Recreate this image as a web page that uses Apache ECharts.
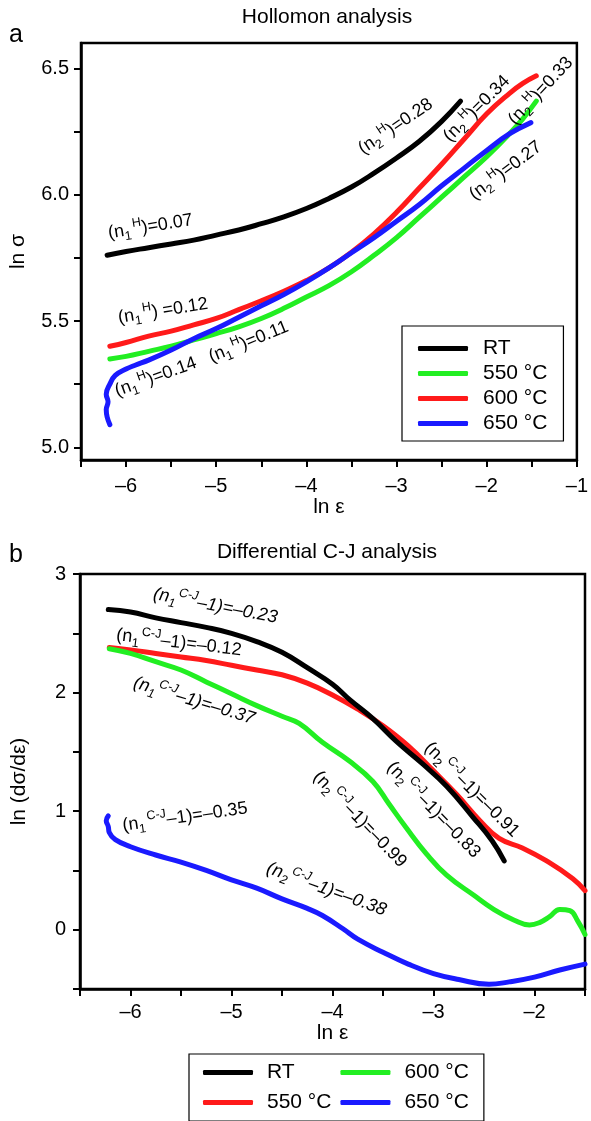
<!DOCTYPE html>
<html><head><meta charset="utf-8">
<script src="https://cdn.jsdelivr.net/npm/echarts@6/dist/echarts.min.js"></script>
<style>html,body{margin:0;padding:0;background:#fff}#c{width:591px;height:1121px}</style>
</head><body><div id="c"></div>
<script>
// ---------- DATA ----------
// Panel a: Hollomon analysis, [ln ε, ln σ]
const hollRT = [[-6.21,5.76],[-6.0,5.775],[-5.75,5.79],[-5.5,5.805],[-5.25,5.82],[-5.0,5.84],[-4.75,5.86],[-4.5,5.885],[-4.25,5.912],[-4.0,5.945],[-3.75,5.985],[-3.5,6.03],[-3.25,6.085],[-3.0,6.145],[-2.75,6.21],[-2.5,6.29],[-2.29,6.37]];
const holl550 = [[-6.18,5.35],[-6.0,5.36],[-5.75,5.38],[-5.5,5.40],[-5.25,5.425],[-5.0,5.45],[-4.75,5.477],[-4.5,5.51],[-4.25,5.55],[-4.0,5.595],[-3.75,5.64],[-3.5,5.695],[-3.25,5.76],[-3.0,5.83],[-2.75,5.91],[-2.5,5.99],[-2.25,6.07],[-2.0,6.15],[-1.75,6.24],[-1.6,6.30],[-1.45,6.37]];
const holl600 = [[-6.18,5.40],[-6.0,5.415],[-5.75,5.44],[-5.5,5.46],[-5.25,5.485],[-5.0,5.51],[-4.75,5.545],[-4.5,5.58],[-4.25,5.618],[-4.0,5.66],[-3.75,5.71],[-3.5,5.772],[-3.25,5.845],[-3.0,5.93],[-2.75,6.025],[-2.5,6.12],[-2.25,6.22],[-2.0,6.32],[-1.75,6.40],[-1.6,6.44],[-1.45,6.47]];
const holl650 = [[-6.18,5.09],[-6.21,5.12],[-6.22,5.15],[-6.2,5.18],[-6.22,5.21],[-6.18,5.25],[-6.12,5.285],[-6.0,5.31],[-5.9,5.325],[-5.75,5.345],[-5.5,5.385],[-5.25,5.43],[-5.0,5.47],[-4.75,5.515],[-4.5,5.56],[-4.25,5.605],[-4.0,5.655],[-3.75,5.71],[-3.5,5.77],[-3.25,5.83],[-3.0,5.895],[-2.75,5.96],[-2.5,6.035],[-2.25,6.105],[-2.0,6.175],[-1.75,6.24],[-1.51,6.285]];
// Panel b: Differential C-J analysis, [ln ε, ln(dσ/dε)]
const cjRT = [[-6.22,2.70],[-6.0,2.68],[-5.75,2.63],[-5.5,2.59],[-5.25,2.55],[-5.0,2.50],[-4.75,2.43],[-4.5,2.34],[-4.25,2.21],[-4.0,2.07],[-3.83,1.94],[-3.6,1.78],[-3.37,1.59],[-3.11,1.40],[-2.87,1.21],[-2.61,0.95],[-2.42,0.75],[-2.30,0.58]];
const cj550 = [[-6.21,2.38],[-6.0,2.36],[-5.75,2.33],[-5.5,2.30],[-5.25,2.27],[-5.0,2.23],[-4.75,2.19],[-4.5,2.15],[-4.25,2.08],[-4.0,1.98],[-3.75,1.86],[-3.5,1.72],[-3.25,1.55],[-3.0,1.34],[-2.77,1.14],[-2.54,0.92],[-2.35,0.77],[-2.12,0.69],[-1.88,0.58],[-1.62,0.43],[-1.5,0.33]];
const cj600 = [[-6.21,2.37],[-6.0,2.33],[-5.75,2.26],[-5.5,2.19],[-5.25,2.09],[-5.0,1.99],[-4.75,1.89],[-4.5,1.80],[-4.33,1.74],[-4.1,1.58],[-3.83,1.42],[-3.6,1.25],[-3.44,1.06],[-3.27,0.86],[-3.07,0.64],[-2.87,0.46],[-2.6,0.29],[-2.4,0.17],[-2.2,0.08],[-2.05,0.04],[-1.95,0.06],[-1.85,0.11],[-1.75,0.17],[-1.65,0.16],[-1.57,0.07],[-1.5,-0.04]];
const cj650 = [[-6.22,0.96],[-6.24,0.92],[-6.22,0.87],[-6.21,0.82],[-6.15,0.76],[-6.0,0.70],[-5.75,0.63],[-5.5,0.57],[-5.25,0.50],[-5.0,0.42],[-4.75,0.35],[-4.5,0.26],[-4.25,0.18],[-4.1,0.12],[-3.9,0.01],[-3.75,-0.08],[-3.5,-0.19],[-3.25,-0.29],[-3.0,-0.37],[-2.75,-0.42],[-2.45,-0.46],[-2.25,-0.44],[-2.0,-0.40],[-1.75,-0.34],[-1.5,-0.29]];
const seriesNames = ['RT', '550 °C', '600 °C', '650 °C'];
const hollYTicks = [5.0, 5.25, 5.5, 5.75, 6.0, 6.25, 6.5];
const hollYLabels = [5.0, 5.5, 6.0, 6.5];
// annotation anchors (data coords) and texts
const annos = [
  {grid:0, at:[-5.73,5.873], rot:9,  n:'1', sup:'H', tail:')=0.07'},
  {grid:0, at:[-3.01,6.27],  rot:34, n:'2', sup:'H', tail:')=0.28'},
  {grid:0, at:[-2.11,6.34],  rot:45, n:'2', sup:'H', tail:')=0.34'},
  {grid:0, at:[-1.40,6.41],  rot:47, n:'2', sup:'H', tail:')=0.33'},
  {grid:0, at:[-1.79,6.095], rot:37, n:'2', sup:'H', tail:')=0.27'},
  {grid:0, at:[-5.59,5.54],  rot:9,  n:'1', sup:'H', tail:') =0.12'},
  {grid:0, at:[-5.67,5.278], rot:20, n:'1', sup:'H', tail:')=0.14'},
  {grid:0, at:[-4.64,5.417], rot:22, n:'1', sup:'H', tail:')=0.11'},
  {grid:1, at:[-5.16,2.73],  rot:-11, n:'1', sup:'C-J', tail:'–1)=–0.23', it:true},
  {grid:1, at:[-5.52,2.42],  rot:-7,  n:'1', sup:'C-J', tail:'–1)=–0.12'},
  {grid:1, at:[-5.37,1.93],  rot:-17, n:'1', sup:'C-J', tail:'–1)=–0.37', it:true},
  {grid:1, at:[-5.46,0.95],  rot:8,   n:'1', sup:'C-J', tail:'–1)=–0.35'},
  {grid:1, at:[-4.06,0.34],  rot:-20, n:'2', sup:'C-J', tail:'–1)=–0.38', it:true},
  {grid:1, at:[-3.73,0.93],  rot:-46, n:'2', sup:'C-J', tail:'–1)=–0.99'},
  {grid:1, at:[-3.00,1.01],  rot:-46, n:'2', sup:'C-J', tail:'–1)=–0.83'},
  {grid:1, at:[-2.62,1.18],  rot:-45, n:'2', sup:'C-J', tail:'–1)=–0.91'}
];

// ---------- STYLE ----------
const FONT = 'Liberation Sans, Arial, Helvetica, sans-serif';
const BLACK = '#000000', GREEN = '#22ee22', RED = '#ff1a1a', BLUE = '#1a1aff';
const topColors = [BLACK, GREEN, RED, BLUE];
const botColors = [BLACK, RED, GREEN, BLUE];

function fmtNum(v) { return v < 0 ? '–' + Math.abs(v) : String(v); }
function intOnly(v) { return Math.abs(v - Math.round(v)) < 1e-9 ? fmtNum(Math.round(v)) : ''; }

function axisCommon() {
  return {
    axisLine: {show: true, onZero: false, lineStyle: {color: BLACK, width: 2.5}},
    axisTick: {show: true, inside: false, length: 7, lineStyle: {color: BLACK, width: 2}},
    splitLine: {show: false},
    nameTextStyle: {fontFamily: FONT, fontSize: 21, color: BLACK},
  };
}
function lineSeries(name, data, color, idx, z) {
  return {type: 'line', name, data, xAxisIndex: idx, yAxisIndex: idx, symbol: 'none', showSymbol: false,
    smooth: 0.45, z: z, lineStyle: {color, width: 5, cap: 'round', join: 'round'}, itemStyle: {color},
    emphasis: {disabled: true}, animation: false};
}

const option = {
  animation: false,
  backgroundColor: '#ffffff',
  textStyle: {fontFamily: FONT},
  title: [
    {text: 'Hollomon analysis', left: 327, top: 7, textAlign: 'center', padding: 0, textStyle: {fontFamily: FONT, fontSize: 21, fontWeight: 'normal', color: BLACK}},
    {text: 'Differential C-J analysis', left: 327, top: 542, textAlign: 'center', padding: 0, textStyle: {fontFamily: FONT, fontSize: 21, fontWeight: 'normal', color: BLACK}},
    {text: 'a', left: 9, top: 23, padding: 0, textStyle: {fontFamily: FONT, fontSize: 25, fontWeight: 'normal', color: BLACK}},
    {text: 'b', left: 9, top: 543, padding: 0, textStyle: {fontFamily: FONT, fontSize: 25, fontWeight: 'normal', color: BLACK}}
  ],
  grid: [
    {left: 80, top: 43, width: 506, height: 417, show: true, borderColor: BLACK, borderWidth: 2.5, containLabel: false},
    {left: 80, top: 574, width: 505, height: 415, show: true, borderColor: BLACK, borderWidth: 2.5, containLabel: false}
  ],
  xAxis: [
    Object.assign(axisCommon(), {type: 'value', gridIndex: 0, min: -6.5, max: -1, interval: 0.5,
      name: 'ln ε', nameLocation: 'middle', nameGap: 37,
      axisLabel: {formatter: intOnly, margin: 16, fontSize: 20, color: BLACK, fontFamily: FONT, showMinLabel: true, showMaxLabel: true}}),
    Object.assign(axisCommon(), {type: 'value', gridIndex: 1, min: -6.5, max: -1.5, interval: 0.5,
      name: 'ln ε', nameLocation: 'middle', nameGap: 30,
      axisLabel: {formatter: intOnly, margin: 13, fontSize: 20, color: BLACK, fontFamily: FONT}})
  ],
  yAxis: [
    Object.assign(axisCommon(), {type: 'value', gridIndex: 0, min: 4.95, max: 6.6,
      name: 'ln σ', nameLocation: 'middle', nameGap: 52, nameRotate: 90,
      axisTick: {show: true, inside: false, length: 7, lineStyle: {color: BLACK, width: 2}, customValues: hollYTicks},
      axisLabel: {customValues: hollYLabels, formatter: v => v.toFixed(1), margin: 12, fontSize: 20, color: BLACK, fontFamily: FONT}}),
    Object.assign(axisCommon(), {type: 'value', gridIndex: 1, min: -0.5, max: 3, interval: 0.5,
      name: 'ln (dσ/dε)', nameLocation: 'middle', nameGap: 50, nameRotate: 90,
      axisLabel: {formatter: intOnly, margin: 14, fontSize: 20, color: BLACK, fontFamily: FONT}})
  ],
  legend: [
    {orient: 'vertical', left: 402, top: 326, padding: [12, 16, 7, 16], itemGap: 4,
      itemWidth: 50, itemHeight: 5, icon: 'roundRect', borderColor: BLACK, borderWidth: 1.2, backgroundColor: '#fff',
      selectedMode: false,
      textStyle: {fontFamily: FONT, fontSize: 21, color: BLACK, padding: [0, 0, 0, 10]},
      data: seriesNames.map((n, i) => ({name: n, itemStyle: {color: topColors[i]}, lineStyle: {color: topColors[i]}}))},
    {orient: 'vertical', left: 189, top: 1054, height: 70, padding: [8, 15, 8, 14], itemGap: 9,
      itemWidth: 50, itemHeight: 5, icon: 'roundRect', borderColor: BLACK, borderWidth: 1.2, backgroundColor: '#fff',
      selectedMode: false,
      textStyle: {fontFamily: FONT, fontSize: 21, color: BLACK, padding: [0, 0, 0, 9], width: 73},
      data: seriesNames.map((n, i) => ({name: n, itemStyle: {color: botColors[i]}, lineStyle: {color: botColors[i]}}))}
  ],
  series: [
    lineSeries(seriesNames[1], holl550, GREEN, 0, 2),
    lineSeries(seriesNames[2], holl600, RED, 0, 3),
    lineSeries(seriesNames[3], holl650, BLUE, 0, 4),
    lineSeries(seriesNames[0], hollRT, BLACK, 0, 5),
    lineSeries(seriesNames[1], cj550, RED, 1, 2),
    lineSeries(seriesNames[2], cj600, GREEN, 1, 3),
    lineSeries(seriesNames[3], cj650, BLUE, 1, 4),
    lineSeries(seriesNames[0], cjRT, BLACK, 1, 5)
  ]
};

const chart = echarts.init(document.getElementById('c'), null, {renderer: 'canvas', width: 591, height: 1121});
chart.setOption(option);

function rich(it) {
  const st = it ? 'italic' : 'normal';
  return {
    m:  {fontFamily: FONT, fontSize: 18, fontStyle: st, lineHeight: 25, verticalAlign: 'middle', fill: BLACK},
    sb: {fontFamily: FONT, fontSize: 12.5, fontStyle: st, lineHeight: 13, verticalAlign: 'bottom', fill: BLACK},
    sp: {fontFamily: FONT, fontSize: 12.5, fontStyle: st, lineHeight: 13, verticalAlign: 'top', fill: BLACK, padding: [0, 0, 0, 2]}
  };
}
const graphics = annos.map(a => {
  const p = chart.convertToPixel({gridIndex: a.grid}, a.at);
  return {type: 'text', x: p[0], y: p[1], rotation: a.rot * Math.PI / 180, z: 100,
    style: {text: '{m|(n}{sb|' + a.n + '}{sp|' + a.sup + '}{m|' + a.tail + '}', rich: rich(a.it),
      align: 'center', verticalAlign: 'middle', fill: BLACK, fontFamily: FONT, fontSize: 18}};
});
chart.setOption({graphic: graphics});
</script></body></html>
